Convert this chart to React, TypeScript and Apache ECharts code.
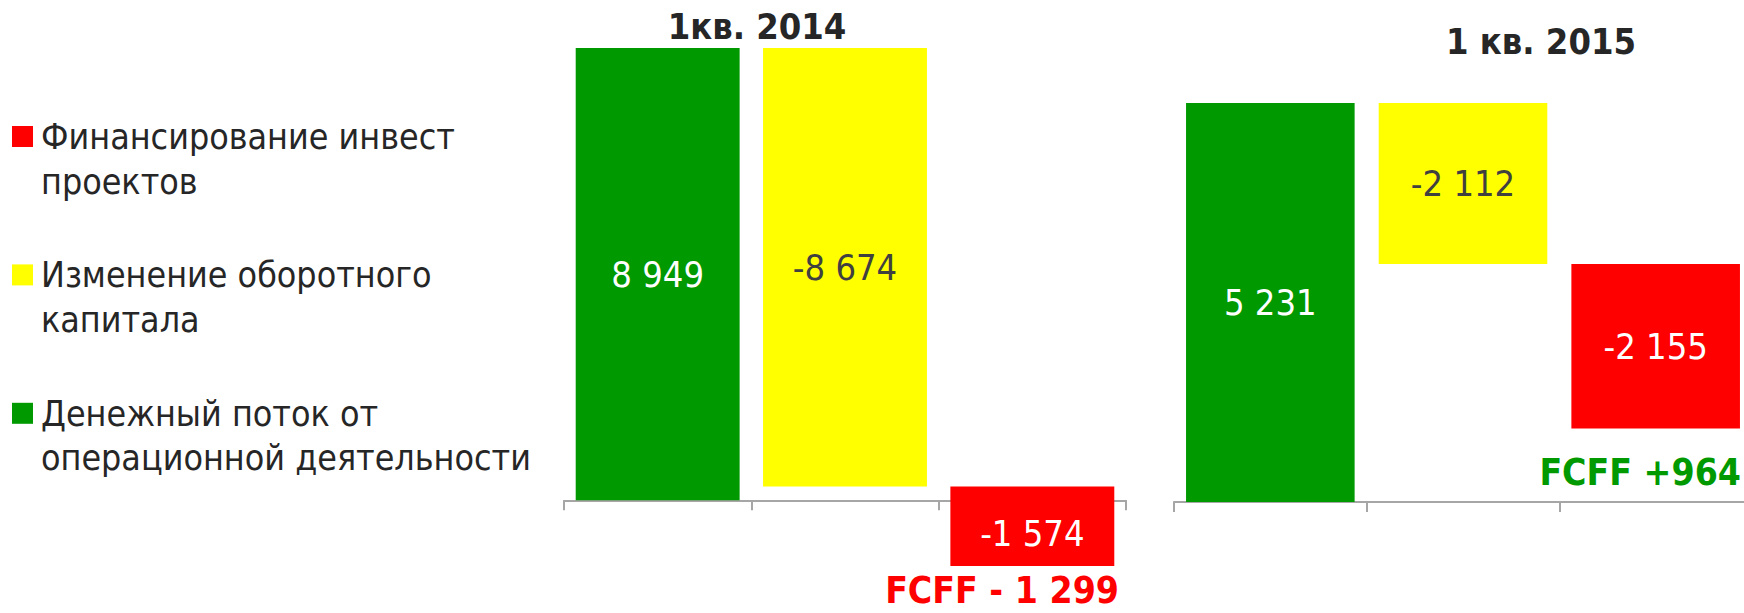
import React, { useEffect, useRef } from 'react';
import * as echarts from 'echarts';

// ---- data ----
const flowNames = [
  'Денежный поток от операционной деятельности',
  'Изменение оборотного капитала',
  'Финансирование инвест проектов',
];
const flowColors = ['#009900', '#FFFF00', '#FF0000'];
const labelColors = ['#FFFFFF', '#404040', '#FFFFFF'];
// legend shows items top-to-bottom: red, yellow, green
const legendOrder = [2, 1, 0];
const legendLines = [
  ['Денежный поток от', 'операционной деятельности'],
  ['Изменение оборотного', 'капитала'],
  ['Финансирование инвест', 'проектов'],
];
const periods = ['1кв. 2014', '1 кв. 2015'];
const values2014 = [8949, -8674, -1574];
const values2015 = [5231, -2112, -2155];
const fcffLabels = ['FCFF - 1 299', 'FCFF +964'];
const fcffColors = ['#FF0000', '#009900'];

const FONT = '"DejaVu Sans Condensed", "DejaVu Sans", Tahoma, sans-serif';
const TEXT_DARK = '#262626';

const fmt = (v: number) =>
  (v < 0 ? '-' : '') + Math.abs(v).toString().replace(/\B(?=(\d{3})+(?!\d))/g, ' ');

// waterfall items: [categoryIndex, start, end, value]
const waterfall = (vals: number[]) => {
  let acc = 0;
  return vals.map((v, i) => {
    const s = acc;
    acc += v;
    return [i, s, acc, v];
  });
};

const BAR_RATIO = 0.875;

const renderItem = (params: any, api: any) => {
  const idx = api.value(0);
  const start = api.value(1);
  const end = api.value(2);
  const val = api.value(3);
  const p0 = api.coord([idx, start]);
  const p1 = api.coord([idx, end]);
  const bw = api.size([1, 0])[0] * BAR_RATIO;
  const top = Math.min(p0[1], p1[1]);
  const h = Math.abs(p1[1] - p0[1]);
  // label centred on the part of the bar that lies on the sign side of its end
  let la = start;
  if ((start > 0 && end < 0) || (start < 0 && end > 0)) la = 0;
  const q0 = api.coord([idx, la]);
  const ly = (q0[1] + p1[1]) / 2;
  return {
    type: 'group',
    children: [
      {
        type: 'rect',
        shape: { x: p0[0] - bw / 2, y: top, width: bw, height: h },
        style: { fill: flowColors[idx] },
      },
      {
        type: 'text',
        x: p0[0],
        y: ly,
        style: {
          text: fmt(val),
          fill: labelColors[idx],
          fontSize: 36,
          fontFamily: FONT,
          align: 'center',
          verticalAlign: 'middle',
        },
      },
    ],
  };
};

export default function App() {
  const ref = useRef<HTMLDivElement>(null);
  useEffect(() => {
    document.body.style.margin = '0';
    document.body.style.overflow = 'hidden';
    const chart = echarts.init(ref.current!, undefined, { renderer: 'svg' });

    const axisColor = '#a6a6a6';
    const xAxis = [0, 1].map((g) => ({
      type: 'category',
      gridIndex: g,
      data: flowNames,
      boundaryGap: true,
      axisLine: { show: true, onZero: true, lineStyle: { color: axisColor, width: 2 } },
      axisTick: { show: true, interval: 0, length: 10, lineStyle: { color: axisColor, width: 2 } },
      axisLabel: { show: false, interval: 0 },
      splitLine: { show: false },
    }));
    const hiddenY = {
      type: 'value',
      axisLine: { show: false },
      axisTick: { show: false },
      axisLabel: { show: false },
      splitLine: { show: false },
    };

    const legendGraphics: any[] = [];
    legendOrder.forEach((fi, k) => {
      const cy = 136.5 + 138.4 * k;
      legendGraphics.push({
        type: 'rect',
        shape: { x: 12, y: cy - 10.5, width: 21, height: 21 },
        style: { fill: flowColors[fi] },
      });
      legendGraphics.push({
        type: 'text',
        x: 41,
        y: cy - 22.3,
        style: {
          text: legendLines[fi].join('\n'),
          fill: TEXT_DARK,
          fontSize: 35.5,
          fontFamily: FONT,
          lineHeight: 44.6,
          align: 'left',
          verticalAlign: 'top',
        },
      });
    });

    const titlePos = [
      [757, 26],
      [1541, 41],
    ];
    const fcffPos = [
      [1119, 590],
      [1741, 472],
    ];

    chart.setOption({
      animation: false,
      backgroundColor: '#ffffff',
      grid: [
        { left: 564, top: 45.4, width: 562, height: 556, outerBoundsMode: 'none' },
        { left: 1174, top: 44.3, width: 578, height: 534, outerBoundsMode: 'none' },
      ],
      xAxis,
      yAxis: [
        { ...hiddenY, gridIndex: 0, min: -2000, max: 9000 },
        { ...hiddenY, gridIndex: 1, min: -1000, max: 6000 },
      ],
      series: [values2014, values2015].map((vals, g) => ({
        type: 'custom',
        name: periods[g],
        xAxisIndex: g,
        yAxisIndex: g,
        renderItem,
        encode: { x: 0, y: [1, 2] },
        data: waterfall(vals),
        clip: false,
      })),
      graphic: [
        ...legendGraphics,
        ...periods.map((p, g) => ({
          type: 'text',
          x: titlePos[g][0],
          y: titlePos[g][1],
          style: {
            text: p,
            fill: TEXT_DARK,
            fontSize: 36,
            fontWeight: 'bold',
            fontFamily: FONT,
            align: 'center',
            verticalAlign: 'middle',
          },
        })),
        ...fcffLabels.map((t, g) => ({
          type: 'text',
          x: fcffPos[g][0],
          y: fcffPos[g][1],
          style: {
            text: t,
            fill: fcffColors[g],
            fontSize: 37,
            lineHeight: 28,
            fontWeight: 'bold',
            fontFamily: FONT,
            align: 'right',
            verticalAlign: 'middle',
          },
        })),
      ],
    });
    return () => chart.dispose();
  }, []);
  return <div ref={ref} style={{ width: 1744, height: 613 }} />;
}
